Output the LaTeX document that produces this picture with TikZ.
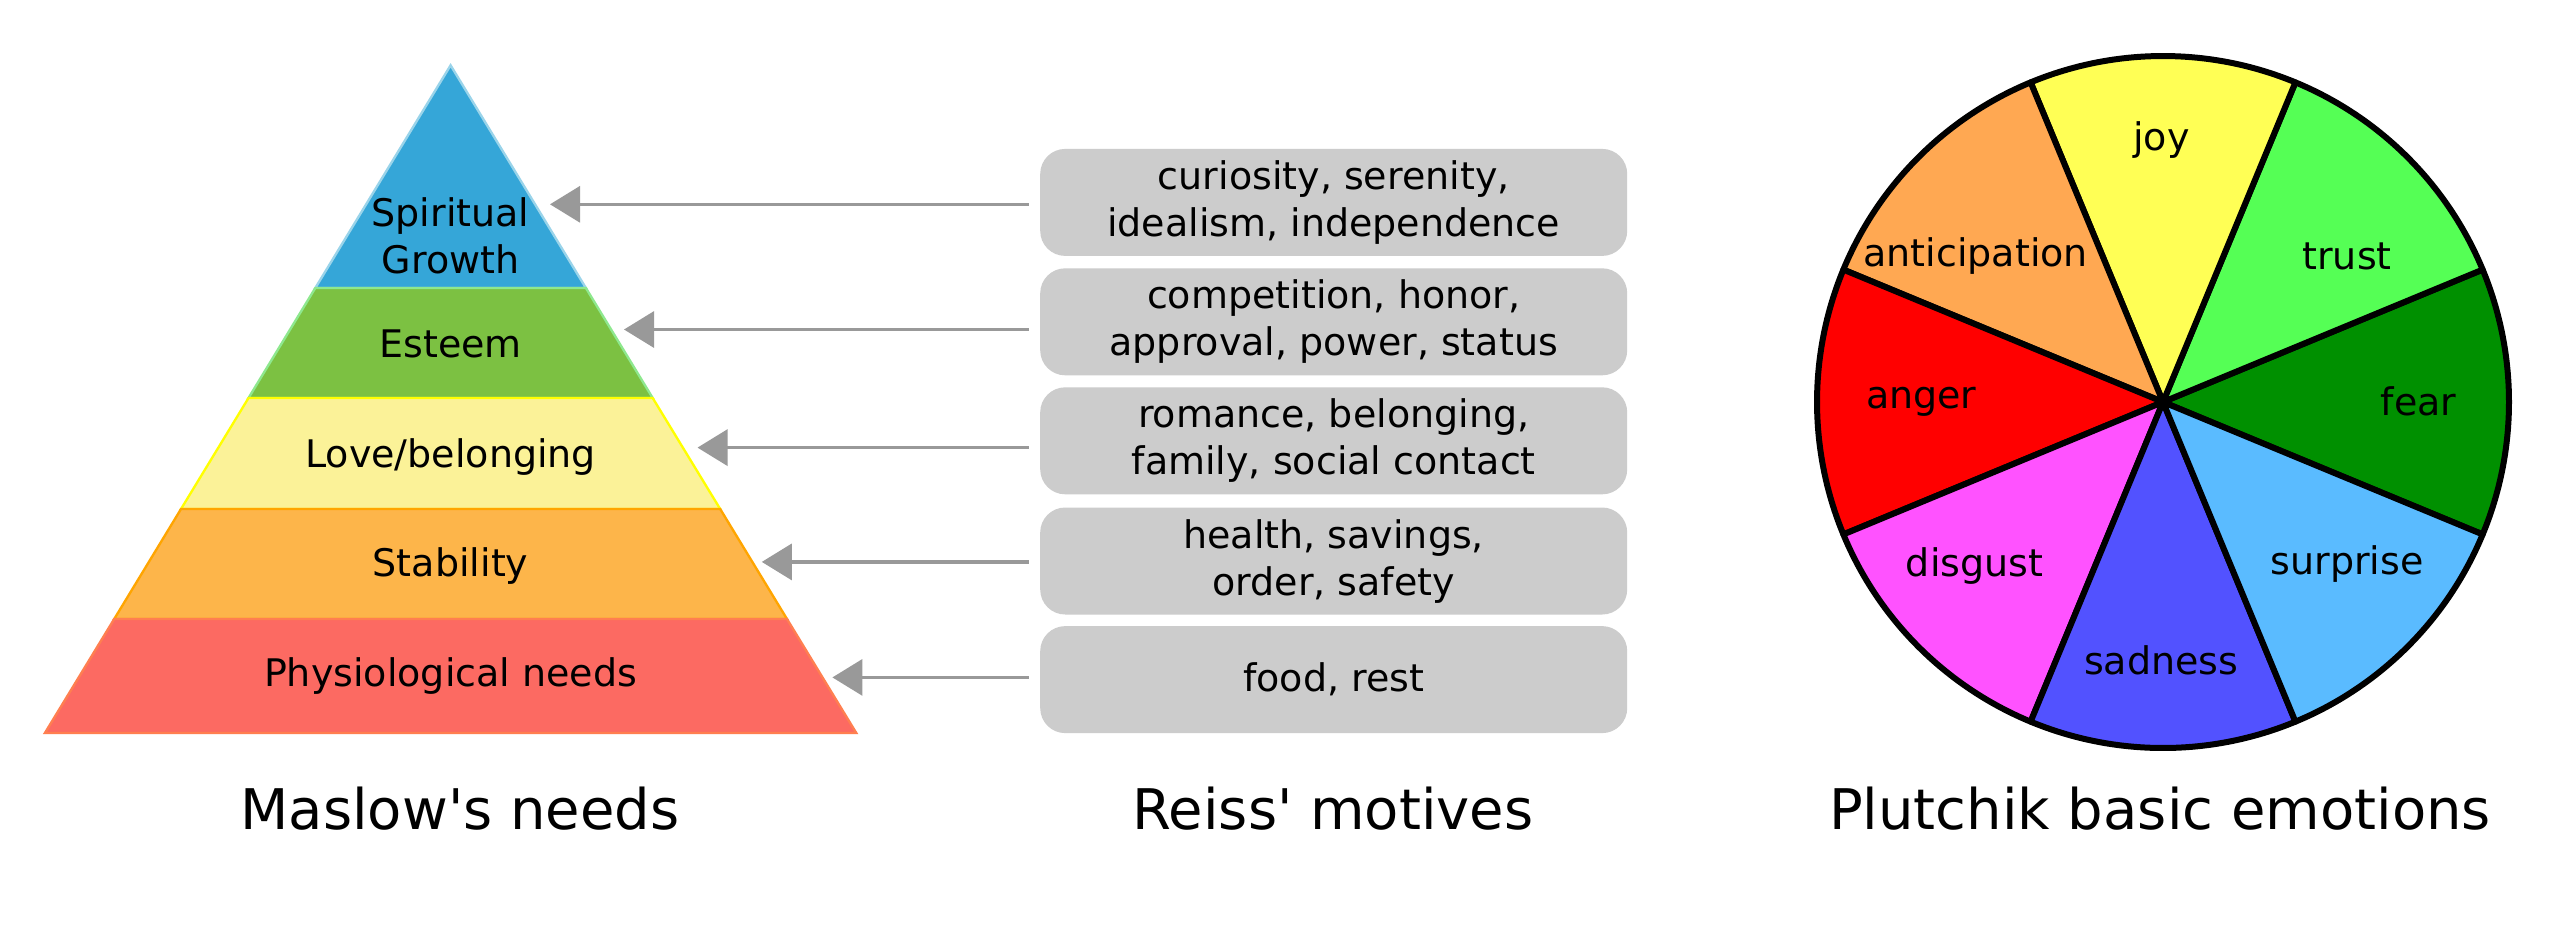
\documentclass[tikz,border=0pt]{standalone}
\usepackage{fontspec}
\setmainfont{DejaVu Sans}
\usetikzlibrary{arrows.meta}
\definecolor{pblue}{HTML}{35A6D8}
\definecolor{pbluel}{HTML}{9AD4EA}
\definecolor{pgreen}{HTML}{7CC142}
\definecolor{pgreenl}{HTML}{8EE88E}
\definecolor{pyellow}{HTML}{FBF298}
\definecolor{pyellowl}{HTML}{FFFF00}
\definecolor{porange}{HTML}{FDB54A}
\definecolor{porangel}{HTML}{FFA500}
\definecolor{pred}{HTML}{FC6A62}
\definecolor{predl}{HTML}{FF7F50}
\definecolor{boxgray}{HTML}{CCCCCC}
\definecolor{arrgray}{HTML}{999999}
\definecolor{cjoy}{HTML}{FFFF55}
\definecolor{ctrust}{HTML}{55FF55}
\definecolor{cfear}{HTML}{009000}
\definecolor{csurprise}{HTML}{5ABBFF}
\definecolor{csadness}{HTML}{5252FF}
\definecolor{cdisgust}{HTML}{FF52FF}
\definecolor{canger}{HTML}{FF0000}
\definecolor{canticipation}{HTML}{FFA852}
\begin{document}
\begin{tikzpicture}[x=0.3pt,y=-0.3pt,
  lbl/.style={font=\fontsize{11.4pt}{14.1pt}\selectfont, align=center, inner sep=0pt},
  ttl/.style={font=\fontsize{16.8pt}{20pt}\selectfont, anchor=base, inner sep=0pt},
  motive/.style={lbl, fill=boxgray, rounded corners=7.5pt, minimum width=176.1pt, minimum height=32.1pt},
  arr/.style={draw=arrgray, line width=0.96pt, -{Triangle[length=9pt,width=10.8pt]}, shorten <=3.3pt},
  wedge/.style={draw=black, line width=1.8pt, line join=round},
  layer/.style={line width=0.7pt, line join=miter}
]
\useasboundingbox (0,0) rectangle (2558,924);
\fill[white] (0,0) rectangle (2558,924);

% Pyramid
\filldraw[layer, fill=pblue, draw=pbluel] (450.6,65.3) -- (585.9,288) -- (315.3,288) -- cycle;
\filldraw[layer, fill=pgreen, draw=pgreenl] (315.3,288) -- (585.9,288) -- (652.7,398) -- (248.5,398) -- cycle;
\filldraw[layer, fill=pyellow, draw=pyellowl] (248.5,398) -- (652.7,398) -- (720.2,509) -- (181,509) -- cycle;
\filldraw[layer, fill=porange, draw=porangel] (181,509) -- (720.2,509) -- (787,619) -- (114.2,619) -- cycle;
\filldraw[layer, fill=pred, draw=predl] (114.2,619) -- (787,619) -- (856.3,733) -- (44.9,733) -- cycle;

\node[lbl] (spirit) at (450.6,236) {Spiritual\\Growth};
\node[lbl, anchor=base] (esteem) at (450.6,357.7) {Esteem};
\node[lbl, anchor=base] (love) at (450.6,467) {Love/belonging};
\node[lbl, anchor=base] (stab) at (450.6,576.3) {Stability};
\node[lbl, anchor=base] (phys) at (450.6,686.5) {Physiological needs};

% Motive boxes
\node[motive] (b1) at (1333.7,202.4) {curiosity, serenity,\\idealism, independence};
\node[motive] (b2) at (1333.7,321.8) {competition, honor,\\approval, power, status};
\node[motive] (b3) at (1333.7,440.8) {romance, belonging,\\family, social contact};
\node[motive] (b4) at (1333.7,561) {health, savings,\\order, safety};
\node[motive] (b5) at (1333.7,679.6) {food, rest};

% Arrow tips
\coordinate (t1) at (550,204.3);
\coordinate (t2) at (624,329.5);
\coordinate (t3) at (697.5,447.6);
\coordinate (t4) at (761.8,561.9);
\coordinate (t5) at (832.4,677.4);
\draw[arr] (b1.west |- t1) -- (t1);
\draw[arr] (b2.west |- t2) -- (t2);
\draw[arr] (b3.west |- t3) -- (t3);
\draw[arr] (b4.west |- t4) -- (t4);
\draw[arr] (b5.west |- t5) -- (t5);

% Plutchik wheel
\coordinate (wc) at (2163,402);
\foreach \a/\c in {-22.5/cfear, 22.5/ctrust, 67.5/cjoy, 112.5/canticipation, 157.5/canger, 202.5/cdisgust, 247.5/csadness, 292.5/csurprise}{
  \filldraw[wedge, fill=\c] (wc) -- ++(\a:103.8pt) arc[start angle=\a, delta angle=45, radius=103.8pt] -- cycle;
}
\node[lbl, anchor=base] (joy) at (2161.5,150.2) {joy};
\node[lbl, anchor=base] (trust) at (2347.1,269.6) {trust};
\node[lbl, anchor=base] (fear) at (2418.6,415.6) {fear};
\node[lbl, anchor=base] (surprise) at (2347.1,574.9) {surprise};
\node[lbl, anchor=base] (sadness) at (2161.3,674.5) {sadness};
\node[lbl, anchor=base] (disgust) at (1974.6,576.3) {disgust};
\node[lbl, anchor=base] (anger) at (1921.3,408.7) {anger};
\node[lbl, anchor=base] (antic) at (1975.6,266.4) {anticipation};

% Titles
\node[ttl] (tmaslow) at (460,829) {Maslow\textquotesingle s needs};
\node[ttl] (treiss) at (1333,829) {Reiss\textquotesingle{} motives};
\node[ttl] (tplut) at (2160,829) {Plutchik basic emotions};
\end{tikzpicture}
\end{document}
